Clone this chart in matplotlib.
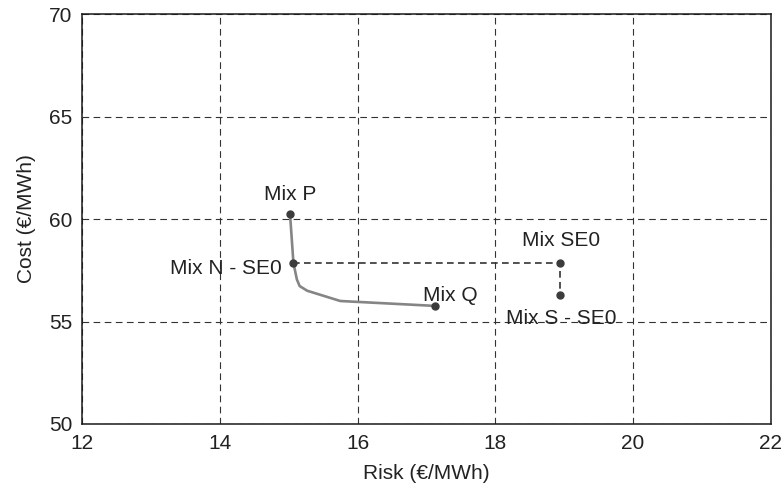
import matplotlib.pyplot as plt

plt.rcParams['font.family'] = ['Liberation Sans', 'DejaVu Sans']

# efficient frontier between Mix P and Mix Q
frontier_risk = [15.02, 15.07, 15.12, 15.16, 15.27, 15.75, 17.13]
frontier_cost = [60.26, 57.85, 57.05, 56.73, 56.50, 56.00, 55.76]

# path from Mix N - SE0 over Mix SE0 down to Mix S - SE0
se0_risk = [15.07, 18.94, 18.94]
se0_cost = [57.85, 57.85, 56.28]

point_names = ['Mix P', 'Mix N - SE0', 'Mix Q', 'Mix SE0', 'Mix S - SE0']
point_risk = [15.02, 15.07, 17.13, 18.94, 18.94]
point_cost = [60.26, 57.85, 55.76, 57.85, 56.28]

fig = plt.figure(figsize=(7.84, 4.9), dpi=100)
ax = fig.add_axes([0.1045, 0.1347, 0.8788, 0.8367])

ax.plot(frontier_risk, frontier_cost, color='#858585', lw=1.9, zorder=3)
ax.plot(se0_risk, se0_cost, color='#333333', lw=1.2, ls=(0, (4, 2.6)), zorder=3)
ax.plot(point_risk, point_cost, 'o', color='#3c3c3c', ms=5, zorder=4)

# label placement relative to each point: offset in points, horizontal alignment
offsets = {
    'Mix P': ((0, 9.5), 'center'),
    'Mix N - SE0': ((-8.7, -7.7), 'right'),
    'Mix Q': ((11, 3.8), 'center'),
    'Mix SE0': ((1, 12), 'center'),
    'Mix S - SE0': ((1, -20.9), 'center'),
}
for name, x, y in zip(point_names, point_risk, point_cost):
    (dx, dy), ha = offsets[name]
    ax.annotate(name, (x, y), xytext=(dx, dy), textcoords='offset points',
                ha=ha, va='baseline', fontsize=15, color='#222222', zorder=5)

ax.set_xlim(12, 22)
ax.set_ylim(50, 70)
ax.set_xticks(range(12, 23, 2))
ax.set_yticks(range(50, 71, 5))
ax.grid(True, color='#333333', ls=(0, (6, 4)), lw=0.8)
ax.tick_params(length=0, labelsize=15, colors='#222222', pad=7)
for s in ax.spines.values():
    s.set_color('#1a1a1a')
    s.set_linewidth(1.1)

ax.set_xlabel('Risk (€/MWh)', fontsize=15, color='#222222', labelpad=8)
ax.set_ylabel('Cost (€/MWh)', fontsize=15, color='#222222', labelpad=9.5)

fig.savefig('out.png', dpi=100)
